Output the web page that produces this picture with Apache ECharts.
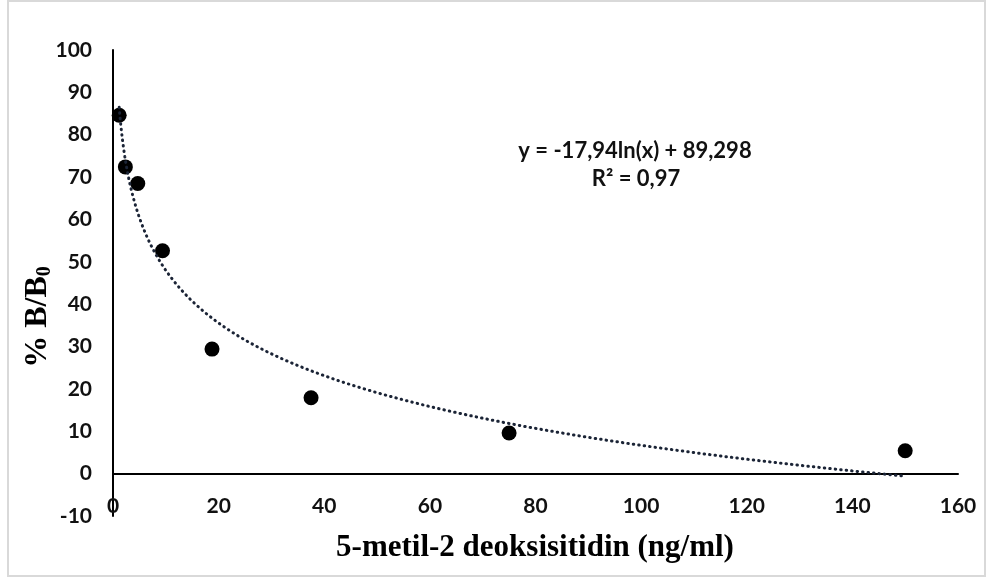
<!DOCTYPE html>
<html>
<head>
<meta charset="utf-8">
<title>5-metil-2 deoksisitidin</title>
<script src="https://cdn.jsdelivr.net/npm/echarts@6/dist/echarts.min.js"></script>
<style>
  html, body { margin: 0; padding: 0; background: #ffffff; }
  #chart { width: 987px; height: 579px; }
</style>
</head>
<body>
<div id="chart"></div>
<script>
// Standard concentrations (ng/ml) and measured binding (% B/B0)
const concentrations = [1.17, 2.34, 4.69, 9.375, 18.75, 37.5, 75, 150];
const bindingPercent = [84.6, 72.4, 68.5, 52.6, 29.4, 17.9, 9.6, 5.4];

// Logarithmic trendline: y = a*ln(x) + b
const trendA = -17.94;
const trendB = 89.298;
const trendLabel = 'y = -17,94ln(x) + 89,298';
const r2Label = 'R² = 0,97';

// Axis tick settings
const xTicks = { min: 0, max: 160, step: 20 };
const yTicks = { min: -10, max: 100, step: 10 };

const points = concentrations.map((c, i) => [c, bindingPercent[i]]);

// Sample the fitted curve across the concentration range
const trendPoints = [];
const xFrom = concentrations[0], xTo = concentrations[concentrations.length - 1];
const steps = 300;
for (let i = 0; i <= steps; i++) {
  const x = xFrom * Math.pow(xTo / xFrom, i / steps);
  trendPoints.push([x, trendA * Math.log(x) + trendB]);
}

const tickFont = { fontFamily: 'Lato', fontWeight: 'bold', fontSize: 21, color: '#111' };
const serifBold = '"Liberation Serif", "Times New Roman", serif';

const chart = echarts.init(document.getElementById('chart'), null, { renderer: 'canvas' });
chart.setOption({
  backgroundColor: '#ffffff',
  animation: false,
  grid: { left: 113, right: 29, top: 50, bottom: 63, containLabel: false },
  xAxis: {
    type: 'value',
    min: xTicks.min, max: xTicks.max, interval: xTicks.step,
    axisLine: { show: true, onZero: true, lineStyle: { color: '#000', width: 2 } },
    axisTick: { show: false },
    splitLine: { show: false },
    axisLabel: Object.assign({ margin: -20, showMinLabel: true, showMaxLabel: true }, tickFont)
  },
  yAxis: {
    type: 'value',
    min: yTicks.min, max: yTicks.max, interval: yTicks.step,
    axisLine: { show: true, onZero: false, lineStyle: { color: '#000', width: 2 } },
    axisTick: { show: false },
    splitLine: { show: false },
    axisLabel: Object.assign({ margin: 21 }, tickFont)
  },
  graphic: [
    {
      type: 'rect', silent: true, z: -1,
      shape: { x: 8, y: 1, width: 977, height: 575 },
      style: { fill: null, stroke: '#d9d9d9', lineWidth: 2 }
    },
    {
      type: 'text', silent: true,
      x: 535, y: 548,
      style: {
        text: '5-metil-2 deoksisitidin (ng/ml)',
        font: 'bold 31px ' + serifBold,
        fill: '#000', align: 'center', verticalAlign: 'middle'
      }
    },
    {
      type: 'text', silent: true,
      x: 38, y: 317, rotation: Math.PI / 2,
      style: {
        text: '{m|% B/B}{s|0}',
        align: 'center', verticalAlign: 'middle',
        rich: {
          m: { font: 'bold 32px ' + serifBold, fill: '#000' },
          s: { font: 'bold 20px ' + serifBold, fill: '#000', padding: [14, 0, 0, 0] }
        }
      }
    },
    {
      type: 'text', silent: true,
      x: 635, y: 151,
      style: {
        text: trendLabel,
        font: 'bold 22px Lato, sans-serif',
        fill: '#111', align: 'center', verticalAlign: 'middle'
      }
    },
    {
      type: 'text', silent: true,
      x: 636, y: 179,
      style: {
        text: r2Label,
        font: 'bold 22px Lato, sans-serif',
        fill: '#111', align: 'center', verticalAlign: 'middle'
      }
    }
  ],
  series: [
    {
      name: 'data',
      type: 'scatter',
      data: points,
      symbol: 'circle',
      symbolSize: 15,
      itemStyle: { color: '#000', opacity: 1 },
      z: 3
    },
    {
      name: 'trend',
      type: 'line',
      data: trendPoints,
      showSymbol: false,
      smooth: false,
      lineStyle: { color: '#1b2436', width: 3, type: [0.5, 5], cap: 'round' },
      z: 4
    }
  ]
});
</script>
</body>
</html>
